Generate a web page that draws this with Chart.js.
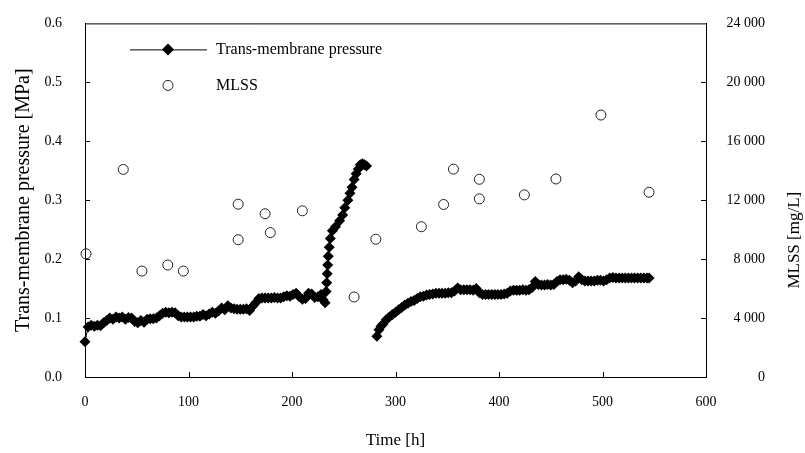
<!DOCTYPE html>
<html><head><meta charset="utf-8">
<script src="https://cdn.jsdelivr.net/npm/chart.js@4/dist/chart.umd.min.js"></script>
<style>html,body{margin:0;padding:0;background:#fff}</style>
</head><body>
<canvas id="c" width="805" height="453"></canvas>
<script>
// ---- Data ----
const tmpTime = [0,3,6,9,12,15,18,21,24,27,30,33,36,39,42,45,48,51,54,57,60,63,66,69,72,75,78,81,84,87,90,93,96,99,102,105,108,111,114,117,120,123,126,129,132,135,138,141,144,147,150,153,156,159,162,165,168,171,174,177,180,183,186,189,192,195,198,201,204,207,210,213,216,219,222,225,228,230,232,233,233.5,234,234.5,235,236,237,239,242,246,249,251,254,256,258,260,262,264,266,268,270,272,
  277,
  282,284,286,288,291,294,297,300,303,306,309,312,315,318,321,324,327,330,333,336,339,342,345,348,351,354,357,360,363,366,369,372,375,378,381,384,387,390,393,396,399,402,405,408,411,414,417,420,423,426,429,432,435,438,441,444,447,450,453,456,459,462,465,468,471,474,477,480,483,486,489,492,495,498,501,504,507,510,513,516,519,522,525,528,531,534,537,540,543,545];
const tmpValues = [0.060,0.085,0.088,0.086,0.088,0.087,0.092,0.096,0.100,0.098,0.102,0.100,0.102,0.098,0.101,0.100,0.094,0.092,0.096,0.093,0.098,0.099,0.099,0.100,0.104,0.108,0.110,0.109,0.110,0.109,0.104,0.102,0.102,0.102,0.102,0.102,0.103,0.103,0.106,0.104,0.107,0.110,0.108,0.112,0.117,0.114,0.121,0.117,0.116,0.115,0.115,0.115,0.116,0.113,0.120,0.126,0.133,0.134,0.134,0.134,0.134,0.135,0.134,0.134,0.136,0.138,0.137,0.140,0.142,0.136,0.132,0.133,0.142,0.141,0.135,0.136,0.140,0.131,0.126,0.145,0.160,0.175,0.190,0.205,0.220,0.235,0.248,0.255,0.265,0.275,0.287,0.300,0.312,0.322,0.335,0.345,0.353,0.360,0.362,0.360,0.358,
  null,
  0.069,0.080,0.086,0.090,0.097,0.102,0.106,0.110,0.114,0.118,0.122,0.125,0.128,0.130,0.133,0.136,0.137,0.139,0.140,0.141,0.142,0.142,0.142,0.142,0.143,0.143,0.146,0.151,0.148,0.148,0.148,0.148,0.147,0.150,0.143,0.140,0.140,0.140,0.140,0.140,0.140,0.140,0.141,0.142,0.146,0.147,0.147,0.147,0.148,0.147,0.148,0.152,0.162,0.157,0.156,0.156,0.157,0.156,0.157,0.162,0.165,0.165,0.166,0.164,0.160,0.163,0.170,0.165,0.163,0.163,0.163,0.163,0.164,0.164,0.163,0.165,0.168,0.169,0.168,0.168,0.168,0.168,0.168,0.168,0.168,0.168,0.168,0.168,0.168,0.168];
const mlssTime = [1,37,55,80,95,148,148,174,179,210,260,281,325,346.5,356,381,381,424.5,455,498.5,545];
const mlssValues = [8360,14090,7190,7600,7190,11730,9320,11080,9800,11280,5430,9350,10200,11710,14110,13420,12090,12360,13440,17780,12540];
const xTickValues = [0,100,200,300,400,500,600];
const tmpTickValues = [0,0.1,0.2,0.3,0.4,0.5,0.6];
const mlssTickValues = [0,4000,8000,12000,16000,20000,24000];
const seriesNames = ['Trans-membrane pressure','MLSS'];
const axisTitles = {x:'Time [h]', y:'Trans-membrane pressure [MPa]', y2:'MLSS [mg/L]'};

const FONT = 'Liberation Serif';
const tmpData = tmpTime.map((t,i)=>({x:t,y:tmpValues[i]}));
const mlssData = mlssTime.map((t,i)=>({x:t,y:mlssValues[i]}));

const frame = {
  id:'frame',
  afterDraw(chart){
    const {ctx, chartArea:a, scales} = chart;
    ctx.save();
    ctx.strokeStyle='#000'; ctx.lineWidth=1;
    ctx.beginPath();
    ctx.moveTo(a.left, a.top+0.5); ctx.lineTo(a.right, a.top+0.5);
    const L=5;
    xTickValues.slice(1,-1).forEach(v=>{const p=Math.round(scales.x.getPixelForValue(v))+0.5; ctx.moveTo(p,a.bottom); ctx.lineTo(p,a.bottom-L);});
    tmpTickValues.slice(1,-1).forEach(v=>{const p=Math.round(scales.y.getPixelForValue(v))+0.5; ctx.moveTo(a.left,p); ctx.lineTo(a.left+L,p);});
    mlssTickValues.slice(1,-1).forEach(v=>{const p=Math.round(scales.y2.getPixelForValue(v))+0.5; ctx.moveTo(a.right,p); ctx.lineTo(a.right-L,p);});
    ctx.stroke();
    // legend
    const lx = a.left+45, ly = a.top+26, mx = a.left+83, tx = a.left+131, gap = 36;
    ctx.beginPath(); ctx.moveTo(lx, ly+0.5); ctx.lineTo(lx+77, ly+0.5); ctx.stroke();
    ctx.fillStyle='#000';
    ctx.beginPath(); ctx.moveTo(mx, ly-6); ctx.lineTo(mx+6, ly); ctx.lineTo(mx, ly+6); ctx.lineTo(mx-6, ly); ctx.closePath(); ctx.fill();
    ctx.strokeStyle='#222';
    ctx.beginPath(); ctx.arc(mx, ly+gap, 5, 0, Math.PI*2); ctx.stroke();
    ctx.font = '16px "'+FONT+'"'; ctx.textBaseline='middle'; ctx.textAlign='left'; ctx.fillStyle='#000';
    ctx.fillText(seriesNames[0], tx, ly);
    ctx.fillText(seriesNames[1], tx, ly+gap);
    // right axis title, reading bottom-to-top
    ctx.save();
    ctx.translate(chart.width-10, (a.top+a.bottom)/2 + 40);
    ctx.rotate(-Math.PI/2);
    ctx.font = '17px "'+FONT+'"'; ctx.textAlign='center'; ctx.textBaseline='middle';
    ctx.fillText(axisTitles.y2, 0, 0);
    ctx.restore();
    ctx.restore();
  }
};

new Chart(document.getElementById('c'), {
  type:'scatter',
  data:{datasets:[
    {label:seriesNames[0], data:tmpData, yAxisID:'y', showLine:true, spanGaps:false, clip:false,
     borderColor:'#000', borderWidth:1, pointStyle:'rectRot', pointRadius:5.5,
     pointBackgroundColor:'#000', pointBorderColor:'#000', pointBorderWidth:0},
    {label:seriesNames[1], data:mlssData, yAxisID:'y2', showLine:false, clip:false,
     pointStyle:'circle', pointRadius:5, pointBackgroundColor:'rgba(255,255,255,0)',
     pointBorderColor:'#222', pointBorderWidth:1}
  ]},
  options:{
    responsive:false, animation:false, devicePixelRatio:1,
    layout:{padding:{top:20,left:0,right:40,bottom:0}},
    plugins:{legend:{display:false}, tooltip:{enabled:false}},
    scales:{
      x:{type:'linear', min:0, max:600, afterFit(s){s.height=76;},
         afterBuildTicks(s){s.ticks=xTickValues.map(v=>({value:v}));},
         grid:{display:false}, border:{display:true,color:'#000',width:1},
         ticks:{color:'#000', font:{family:FONT,size:14}, padding:9, maxRotation:0},
         title:{display:true, text:axisTitles.x, color:'#000', font:{family:FONT,size:17}, padding:{top:0,bottom:2}}},
      y:{type:'linear', position:'left', min:0, max:0.6, afterFit(s){s.width=85;},
         afterBuildTicks(s){s.ticks=tmpTickValues.map(v=>({value:v}));},
         grid:{display:false}, border:{display:true,color:'#000',width:1},
         ticks:{color:'#000', font:{family:FONT,size:14}, padding:15, callback:v=>Number(v).toFixed(1)},
         title:{display:true, text:axisTitles.y, color:'#000', font:{family:FONT,size:20}, padding:{top:12,bottom:0}}},
      y2:{type:'linear', position:'right', min:0, max:24000, afterFit(s){s.width=59;},
         afterBuildTicks(s){s.ticks=mlssTickValues.map(v=>({value:v}));},
         grid:{display:false}, border:{display:true,color:'#000',width:1},
         ticks:{color:'#000', font:{family:FONT,size:14}, padding:12, crossAlign:'far',
                callback:v=>String(v).replace(/\B(?=(\d{3})+(?!\d))/g,' ')},
         title:{display:false, text:axisTitles.y2}}
    }
  },
  plugins:[frame]
});
</script>
</body></html>
